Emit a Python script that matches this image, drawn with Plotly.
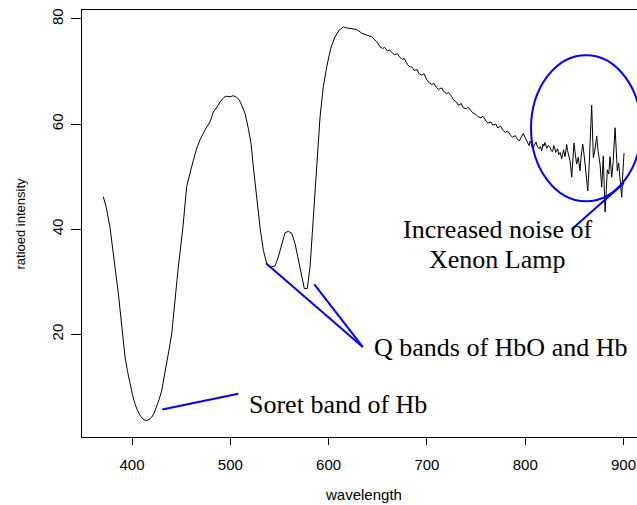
import plotly.graph_objects as go

# ---- spectrum data ----
wl_soret = [370.8, 373.6, 377.6, 380.4, 382.7, 386.1, 389.5, 392.9, 395.5, 398.0, 400.5,
            403.0, 405.5, 408.1, 410.5, 412.7, 415.0, 417.5, 420.0, 422.5, 425.1, 427.6,
            430.2, 432.7, 435.3, 437.8, 440.4, 443.7, 447.1, 451.6, 455.6, 460.7,
            465.8, 469.2, 474.3, 479.3, 482.7, 487.8, 489.5, 493.6, 496.0, 499.7, 503.0,
            506.5, 509.0, 511.6, 515.0, 518.3, 521.1, 523.4, 526.1]
val_soret = [46.2, 44.3, 40.4, 36.6, 32.8, 27.8, 21.4, 15.7, 12.9, 10.6, 8.5,
             6.8, 5.5, 4.6, 4.0, 3.7, 3.6, 3.8, 4.2, 5.0, 6.2, 7.6,
             9.3, 11.7, 14.4, 17.2, 20.1, 26.5, 32.8, 40.0, 48.1, 51.9,
             55.4, 57.0, 58.9, 60.4, 62.3, 63.6, 64.2, 65.1, 65.3, 65.2, 65.4,
             65.1, 64.6, 63.6, 62.0, 59.2, 56.3, 51.9, 46.8]

wl_q = [530.2, 533.6, 537.0, 540.4, 545.5, 548.8, 552.3, 555.6, 559.0, 562.5, 565.8,
        569.2, 572.6, 575.3, 578.3, 581.1, 583.4, 586.2, 588.5, 591.3, 594.6, 598.1,
        602.1, 606.5, 610.9, 615.0, 618.4, 623.5, 628.6, 633.7, 638.8, 643.8, 648.9, 652.3]
val_q = [40.4, 36.0, 33.5, 32.8, 33.0, 34.7, 37.3, 39.3, 39.6, 39.2, 37.3,
         34.1, 30.9, 28.7, 28.7, 32.8, 39.2, 46.8, 55.0, 61.4, 67.1, 70.9,
         74.4, 76.6, 77.9, 78.5, 78.3, 78.2, 78.0, 77.3, 77.0, 76.6, 75.7, 74.7]

wl_slope = [655, 657, 660, 662, 665, 667, 670, 672, 675, 677, 680, 682, 685, 687, 690,
            692, 695, 697, 700, 702, 705, 707, 710, 712, 715, 717, 720, 722, 725, 727,
            730, 732, 735, 737, 740, 742, 745, 747, 750, 752, 755, 757, 760, 762, 765,
            767, 770, 772, 775, 777, 780, 782, 785, 787, 790, 792, 794, 796, 798, 800,
            802, 804]
val_slope = [74.4, 74.6, 73.9, 74.1, 73.5, 73.2, 73.4, 72.8, 72.3, 72.5, 71.4, 71.0, 70.8,
             70.2, 70.4, 69.6, 69.3, 69.6, 68.4, 67.9, 67.5, 67.8, 66.9, 66.6, 66.9, 66.2,
             65.8, 66.0, 65.3, 64.6, 64.2, 63.6, 63.9, 63.1, 62.9, 63.2, 62.5, 62.1, 61.8,
             61.4, 61.2, 61.5, 60.6, 60.2, 60.4, 59.8, 60.0, 59.3, 59.6, 58.9, 58.4, 58.7,
             57.9, 57.5, 57.8, 57.1, 56.8, 57.6, 58.2, 57.4, 56.5, 55.9]

wl_noise = [805, 806, 807, 808.2, 809, 810, 811, 811.7, 813, 814, 815.5, 816.8, 818, 819,
            820.1, 821, 822, 823.5, 825.2, 826.5, 828, 829, 830, 831, 832, 833, 834, 835.5,
            837.1, 838, 839, 840.5, 841.3, 842.2, 843, 844, 845.6, 847.3, 848.5, 849.6,
            851, 852.3, 854, 855.7, 857, 858.5, 860, 860.8, 862.5, 863.6, 865, 865.9,
            867.6, 869.3, 871, 872.7, 874, 876.1, 877.8, 879.4, 880.3, 881.2, 882.5, 883.5,
            885, 886.3, 888, 889.5, 891.4, 892.5, 893.7, 895, 896.4, 898.2, 899.2, 900.5]
val_noise = [56.8, 56.4, 55.6, 55.2, 55.9, 56.3, 56.6, 56.0, 55.6, 55.3, 55.7, 54.9, 56.2,
             55.8, 56.5, 56.0, 55.4, 55.9, 55.6, 54.9, 54.8, 55.9, 55.5, 54.6, 54.9, 55.3,
             54.2, 54.6, 53.4, 54.5, 55.1, 53.8, 54.6, 56.1, 55.0, 54.0, 53.0, 49.9, 53.5,
             56.4, 54.2, 52.4, 53.7, 51.1, 54.0, 56.2, 54.0, 52.3, 49.5, 47.3, 52.0, 57.0,
             63.6, 53.6, 55.2, 57.7, 55.0, 52.4, 48.0, 53.9, 50.0, 43.3, 47.5, 51.3, 50.5,
             53.8, 49.9, 53.0, 59.3, 54.5, 51.1, 52.6, 49.9, 46.1, 50.5, 54.5]

wavelength = wl_soret + wl_q + wl_slope + wl_noise
intensity = val_soret + val_q + val_slope + val_noise

x_ticks = [400, 500, 600, 700, 800, 900]
y_ticks = [20, 40, 60, 80]

# annotation labels and pointer endpoints (data units)
soret_label = "Soret band of Hb"
q_label = "Q bands of HbO and Hb"
xenon_label_1 = "Increased noise of"
xenon_label_2 = "Xenon Lamp"
soret_pointer = [(430.8, 5.7), (508.1, 8.7)]
q_pointers = [[(536.3, 33.5), (634.7, 17.6)], [(585.5, 29.5), (634.7, 17.6)]]
xenon_pointer = [(847.3, 40.0), (900.5, 48.8)]
noise_ellipse = dict(x0=805.9, x1=917.8, y0=45.3, y1=73.1)

BLUE = "#0000FF"
SERIF = "Liberation Serif, Times New Roman, serif"
SANS = "Liberation Sans, Arial, Helvetica, sans-serif"

fig = go.Figure()
fig.add_trace(go.Scatter(x=wavelength, y=intensity, mode="lines",
                         line=dict(color="black", width=1), hoverinfo="skip",
                         showlegend=False))

shapes = []
def seg(p):
    return dict(type="line", xref="x", yref="y", x0=p[0][0], y0=p[0][1],
                x1=p[1][0], y1=p[1][1], line=dict(color=BLUE, width=2))
shapes.append(seg(soret_pointer))
for p in q_pointers:
    shapes.append(seg(p))
shapes.append(seg(xenon_pointer))
shapes.append(dict(type="circle", xref="x", yref="y", line=dict(color=BLUE, width=2),
                   **noise_ellipse))

annotations = [
    dict(text=soret_label, x=517.0, y=6.74, xref="x", yref="y", xanchor="left",
         yanchor="middle", showarrow=False, font=dict(family=SERIF, size=26, color="black")),
    dict(text=q_label, x=643.8, y=17.47, xref="x", yref="y", xanchor="left",
         yanchor="middle", showarrow=False, font=dict(family=SERIF, size=26, color="black")),
    dict(text=xenon_label_1, x=771.3, y=40.0, xref="x", yref="y", xanchor="center",
         yanchor="middle", showarrow=False, font=dict(family=SERIF, size=26, color="black")),
    dict(text=xenon_label_2, x=771.3, y=34.29, xref="x", yref="y", xanchor="center",
         yanchor="middle", showarrow=False, font=dict(family=SERIF, size=26, color="black")),
    dict(text="wavelength", x=0.507, y=0, xref="paper", yref="paper", xanchor="center",
         yanchor="middle", yshift=-57, showarrow=False,
         font=dict(family=SANS, size=15, color="black")),
    dict(text="ratioed intensity", x=0, y=0.5, xref="paper", yref="paper",
         xanchor="center", yanchor="middle", xshift=-62, textangle=-90, showarrow=False,
         font=dict(family=SANS, size=13, color="black")),
]

fig.update_layout(
    width=637, height=505,
    margin=dict(l=82, r=0, t=10, b=68, pad=0),
    paper_bgcolor="white", plot_bgcolor="white",
    shapes=shapes, annotations=annotations,
    xaxis=dict(range=[349.14, 913.7], tickvals=x_ticks, ticks="outside", ticklen=7,
               tickcolor="black", showline=True, linecolor="black", linewidth=1,
               mirror=True, showgrid=False, zeroline=False, ticklabelstandoff=7,
               tickfont=dict(family=SANS, size=15, color="black")),
    yaxis=dict(range=[0.46, 81.71], tickvals=y_ticks, ticks="outside", ticklen=10,
               tickcolor="black", showline=True, linecolor="black", linewidth=1,
               mirror=False, showgrid=False, zeroline=False, tickangle=-90,
               ticklabelstandoff=2, tickfont=dict(family=SANS, size=15, color="black")),
)

fig.write_html("out.html")
